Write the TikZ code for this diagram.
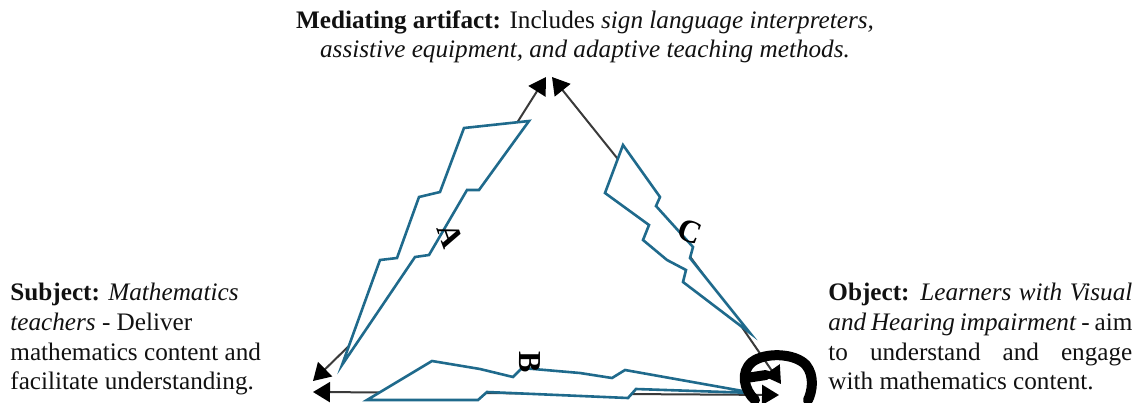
\documentclass[tikz,border=0pt]{standalone}
\usepackage{fontspec}
\setmainfont{Liberation Serif}
\usetikzlibrary{arrows.meta,positioning}
\definecolor{Bolt}{HTML}{1F6A8C}
\definecolor{Ink}{HTML}{111111}
\definecolor{Edge}{HTML}{3A3A3A}
\newcommand{\jline}[1]{\makebox[152pt][s]{#1}}
\tikzset{
  caption/.style={font=\fontsize{12.6}{14.8}\selectfont,text=Ink,inner sep=0pt},
  edge/.style={{Triangle[length=8.5pt,width=10pt,black]}-{Triangle[length=8.5pt,width=10pt,black]},draw=Edge,line width=1pt,line join=round},
  bolt/.style={draw=Bolt,fill=white,line width=1.3pt,line join=miter},
  tag/.style={font=\fontsize{16}{16}\selectfont\bfseries,text=black,inner sep=0pt},
  blob/.style={draw=black,line width=5pt,line cap=round,line join=round}
}
\begin{document}
\begin{tikzpicture}[x=0.5pt,y=-0.5pt]
  \useasboundingbox (0,0) rectangle (1145,402);
  % texts
  \node[caption,align=center] (ma) at (585,37) {\textbf{Mediating artifact:} Includes \textit{sign language interpreters,}\\ \textit{assistive equipment, and adaptive teaching methods.}};
  \node[caption,align=left,anchor=north west] (subj) at (10,283) {\textbf{Subject:} \textit{Mathematics}\\ \textit{teachers} - Deliver\\ mathematics content and\\ facilitate understanding.};
  \node[caption,align=left,anchor=north west] (obj) at (828,283) {\jline{\textbf{Object:} \textit{Learners with Visual}}\\ \jline{\textit{and Hearing impairment} - aim}\\ \jline{to understand and engage}\\ with mathematics content.};
  % corners
  \coordinate (mA) at (546,77);
  \coordinate (mB) at (552,77);
  \coordinate (sA) at (313,381);
  \coordinate (sB) at (313,392);
  \coordinate (oA) at (781,384);
  \coordinate (oB) at (779,395);
  \draw[edge] (sA) -- (355,340) -- (405,258) -- (455,192) -- (515,126) -- (mA);
  \draw[edge] (mB) -- (617,158) -- (737,320) -- (oA);
  \draw[edge] (sB) -- (oB);
  % bolts
  \draw[bolt] (464,128) -- (529,121) -- (479,190) -- (467,190) -- (429,255) -- (415,257)
    -- (342,365) -- (380,260) -- (397,258) -- (419,197) -- (440,192) -- cycle;
  \draw[bolt] (623,145) -- (660,197) -- (656,206) -- (693,247) -- (690,258) -- (750,333)
    -- (683,282) -- (686,270) -- (667,260) -- (643,240) -- (649,225) -- (605,193) -- cycle;
  \draw[bolt] (367,400) -- (432,361) -- (480,369) -- (513,377) -- (522,368) -- (580,373)
    -- (612,378) -- (625,370) -- (754,393) -- (636,389) -- (628,398) -- (487,392)
    -- (478,400) -- cycle;
  % tags
  \node[tag,rotate=-70] (tA) at (450,236) {A};
  \node[tag,rotate=-90] (tB) at (530,362) {B};
  \node[tag,rotate=-20] (tC) at (690,232) {C};
  % mark at the object corner
  \draw[blob] (755,400) .. controls (744,390) and (740,372) .. (752,362)
    .. controls (765,352) and (795,353) .. (806,365)
    .. controls (815,376) and (812,392) .. (808,400);
  \draw[blob] (746,378) -- (766,375);
\end{tikzpicture}
\end{document}
